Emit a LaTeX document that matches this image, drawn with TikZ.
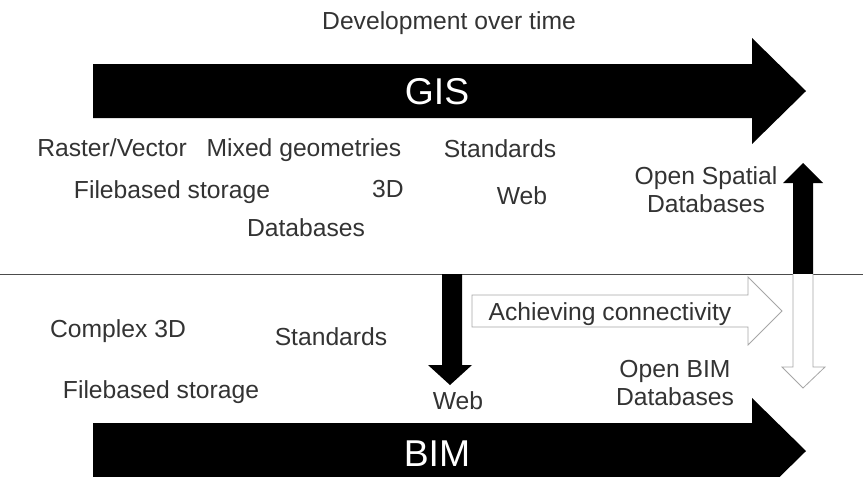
\documentclass[tikz,border=0pt]{standalone}
\usepackage{fontspec}
\setmainfont{Liberation Sans}
\usepackage{tikz}
\tikzset{%
    lbl/.style={inner sep=0pt, text height=13.3pt, text depth=0pt,
                font=\fontsize{18.5}{22}\selectfont, text=black!80},
    twolbl/.style={lbl, align=center, font=\fontsize{18.5}{21}\selectfont},
    bigtxt/.style={lbl, text height=20pt, font=\fontsize{28}{30}\selectfont, text=white},
    hollow/.style={draw=black!35, line width=0.6pt, fill=white}
}

\begin{document}
\begin{tikzpicture}[x=0.75pt, y=-0.75pt]
  \useasboundingbox (0,0) rectangle (863,476);
  \clip (0,0) rectangle (863,476);

  \node[lbl] (devtime) at (449,21) {Development over time};

  % GIS arrow
  \fill (93,64) -- (752,64) -- (752,38) -- (806,91) -- (752,144) -- (752,118) -- (93,118) -- cycle;
  \node[bigtxt] (gis) at (437,91) {GIS};

  \node[lbl] (raster) at (112,148) {Raster/Vector};
  \node[lbl] (mixed) at (304,148) {Mixed geometries};
  \node[lbl] (stdgis) at (500,149) {Standards};
  \node[lbl] (filegis) at (172,190) {Filebased storage};
  \node[lbl] (threed) at (388,189) {3D};
  \node[lbl] (webgis) at (522,196) {Web};
  \node[lbl] (dbgis) at (306,228) {Databases};
  \node[twolbl] (openspatial) at (706,204) {Open Spatial\\Databases};

  % divider
  \draw[black!70, line width=0.7pt] (0,274) -- (863,274);

  % up arrow to GIS
  \fill (793,274) -- (793,183) -- (783,183) -- (803,163) -- (823,183) -- (813,183) -- (813,274) -- cycle;

  % hollow down arrow to BIM
  \draw[hollow] (793,274) -- (793,367) -- (782,367) -- (803,388) -- (825,367) -- (813,367) -- (813,274);

  % connectivity
  \draw[hollow] (472,295) -- (748,295) -- (748,277) -- (782,311) -- (748,345) -- (748,327) -- (472,327) -- cycle;
  \node[lbl] (connect) at (610,312) {Achieving connectivity};

  % web arrow down to BIM
  \fill (442,274) -- (462,274) -- (462,365) -- (472,365) -- (450,385) -- (428,365) -- (442,365) -- cycle;

  \node[lbl] (complex) at (118,329) {Complex 3D};
  \node[lbl] (stdbim) at (331,337) {Standards};
  \node[lbl] (filebim) at (161,390) {Filebased storage};
  \node[lbl] (webbim) at (458,401) {Web};
  \node[twolbl] (openbim) at (675,397) {Open BIM\\Databases};

  % BIM arrow
  \fill (93,423) -- (752,423) -- (752,398) -- (806,451) -- (752,504) -- (752,479) -- (93,479) -- cycle;
  \node[bigtxt] (bim) at (437,453) {BIM};
\end{tikzpicture}
\end{document}
